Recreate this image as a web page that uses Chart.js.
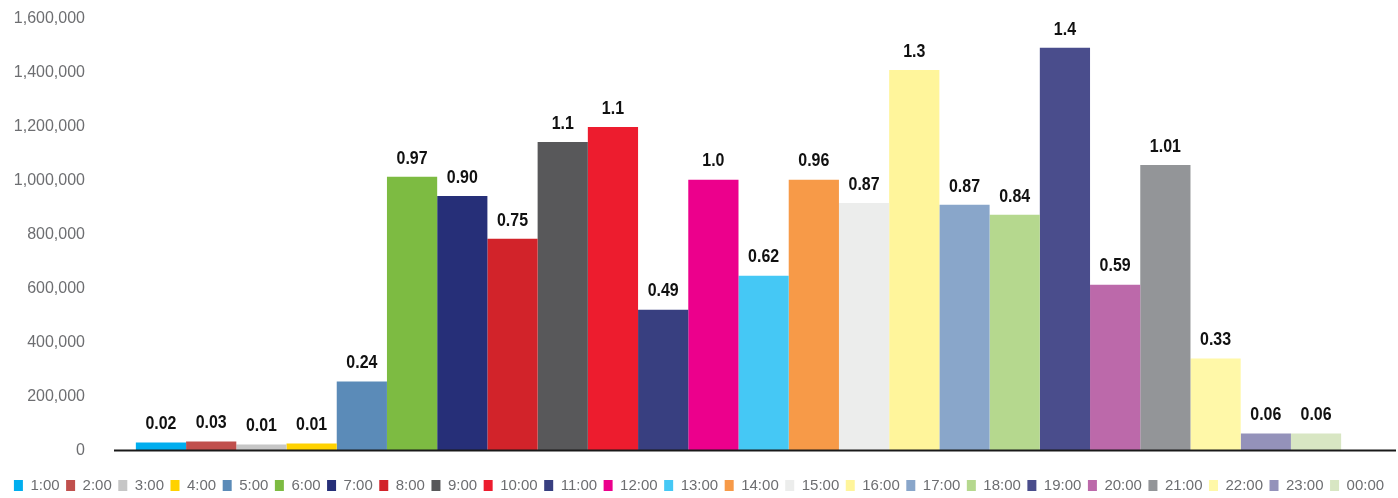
<!DOCTYPE html>
<html>
<head>
<meta charset="utf-8">
<script src="https://cdn.jsdelivr.net/npm/chart.js@4"></script>
<style>
  html, body { margin: 0; padding: 0; background: #fff; }
  #wrap { width: 1398px; height: 498px; }
</style>
</head>
<body>
<div id="wrap"><canvas id="hourChart"></canvas></div>
<script>
const hours = ['1:00', '2:00', '3:00', '4:00', '5:00', '6:00', '7:00', '8:00', '9:00', '10:00', '11:00', '12:00',
  '13:00', '14:00', '15:00', '16:00', '17:00', '18:00', '19:00', '20:00', '21:00', '22:00', '23:00', '00:00'];
const values = [30000, 33000, 22000, 26000, 256000, 1015000, 944000, 785000, 1144000, 1200000, 522000, 1004000,
  648000, 1004000, 918000, 1411000, 911000, 874000, 1493000, 615000, 1059000, 341000, 63000, 63000];
const valueLabels = ['0.02', '0.03', '0.01', '0.01', '0.24', '0.97', '0.90', '0.75', '1.1', '1.1', '0.49', '1.0',
  '0.62', '0.96', '0.87', '1.3', '0.87', '0.84', '1.4', '0.59', '1.01', '0.33', '0.06', '0.06'];
const colors = ['#00aeef', '#c0504d', '#c6c6c6', '#ffd200', '#5b8bb8', '#7dbb42', '#262f78', '#d2232a',
  '#58585a', '#ed1c2e', '#383f80', '#ec008c', '#45c8f5', '#f79a48', '#ecedec', '#fff59b',
  '#89a6ca', '#b5d88e', '#4a4d8c', '#bc69aa', '#939598', '#fff8a8', '#9492ba', '#d8e6c3'];
const yTicks = [0, 200000, 400000, 600000, 800000, 1000000, 1200000, 1400000, 1600000];

const fontFamily = '"Liberation Sans", Arial, sans-serif';

// one dataset per hour, all in a single category
let datasets = hours.map(function (h, i) {
  return {
    label: h,
    data: [values[i]],
    backgroundColor: colors[i],
    borderWidth: 0
  }
})

// value text above each bar (squeezed a bit, the original font is condensed)
const barLabels = {
  id: 'barLabels',
  afterDatasetsDraw(chart) {
    const ctx = chart.ctx;
    ctx.save();
    ctx.font = 'bold 19px ' + fontFamily;
    ctx.fillStyle = '#111';
    ctx.textAlign = 'center';
    ctx.textBaseline = 'bottom';
    chart.data.datasets.forEach(function (ds, i) {
      const bar = chart.getDatasetMeta(i).data[0];
      const w = ctx.measureText(valueLabels[i]).width;
      ctx.fillText(valueLabels[i], bar.x, bar.y - 9, w * 0.84);
    })
    ctx.restore();
  }
}

// base line, runs a bit past the bars on the right
const baseLine = {
  id: 'baseLine',
  afterDatasetsDraw(chart) {
    const ctx = chart.ctx;
    const y = chart.scales.y.getPixelForValue(0);
    ctx.save();
    ctx.strokeStyle = '#1a1a1a';
    ctx.lineWidth = 2;
    ctx.beginPath();
    ctx.moveTo(chart.chartArea.left, y);
    ctx.lineTo(chart.width - 2, y);
    ctx.stroke();
    ctx.restore();
  }
}

let canvas = document.getElementById('hourChart');
let hourChart = new Chart(canvas, {
  type: 'bar',
  data: { labels: [''], datasets: datasets },
  options: {
    responsive: true,
    maintainAspectRatio: false,
    animation: false,
    categoryPercentage: 0.965,
    barPercentage: 1,
    layout: { padding: { top: 19, left: 0, right: 0, bottom: -5 } },
    plugins: {
      tooltip: { enabled: false },
      legend: {
        position: 'bottom',
        labels: {
          boxWidth: 9,
          boxHeight: 11,
          padding: 6.5,
          color: '#6d6e71',
          font: { family: fontFamily, size: 15 }
        }
      }
    },
    scales: {
      x: {
        afterFit(scale) { scale.height = 21; },
        grid: { display: false },
        border: { display: false },
        ticks: { display: false }
      },
      y: {
        min: 0,
        max: 1600000,
        afterBuildTicks(scale) {
          scale.ticks = yTicks.map(v => ({ value: v }));
        },
        afterFit(scale) {
          scale.width = 114;
          scale.paddingTop = 10;
          scale.paddingBottom = 10;
        },
        grid: { display: false, drawTicks: false },
        border: { display: false },
        ticks: {
          padding: 29,
          color: '#6d6e71',
          font: { family: fontFamily, size: 16 },
          callback: v => v.toLocaleString('en-US')
        }
      },
      yRight: {
        position: 'right',
        afterFit(scale) { scale.width = 35; },
        grid: { display: false },
        border: { display: false },
        ticks: { display: false }
      }
    }
  },
  plugins: [barLabels, baseLine]
});
</script>
</body>
</html>
